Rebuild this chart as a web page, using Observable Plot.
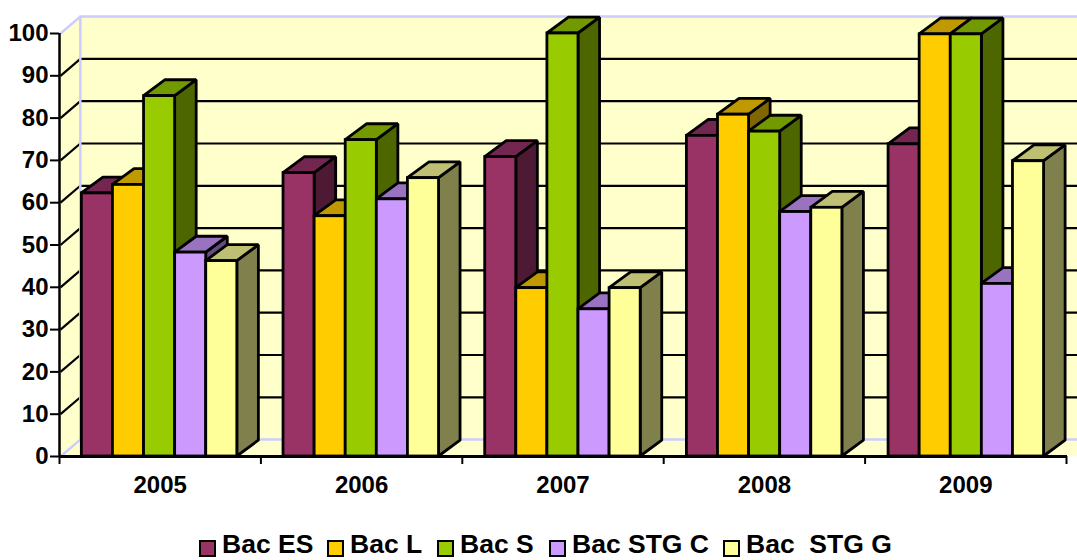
<!DOCTYPE html>
<html><head><meta charset="utf-8">
<script src="https://cdn.jsdelivr.net/npm/d3@7"></script>
<script src="https://cdn.jsdelivr.net/npm/@observablehq/plot@0.6"></script>
<style>
html,body{margin:0;padding:0;background:#fff;overflow:hidden;width:1077px;height:560px}
#legend{position:relative;height:30px;font:bold 26.5px "Liberation Sans",Arial,sans-serif;color:#000;line-height:30px;white-space:pre}
#legend .i{position:absolute;top:-1px;display:flex}
#legend .s{width:13px;height:13px;border:2.5px solid #000;margin:11px 6px 0 0;flex:none}
svg{display:block}
</style></head><body>
<div id="chart"></div><div id="legend"></div>
<script>
const years = ["2005","2006","2007","2008","2009"];
const seriesNames = ["Bac ES","Bac L","Bac S","Bac STG C","Bac  STG G"];
const bacES  = [62.2,67,70.8,75.8,73.8];
const bacL   = [64.2,56.8,39.8,80.8,99.8];
const bacS   = [85.2,74.8,100,76.8,99.8];
const bacSTGC= [48.2,60.8,34.8,57.8,40.8];
const bacSTGG= [46.2,65.8,39.8,58.8,69.8];
const front = ["#993366","#ffcc00","#99cc00","#cc99ff","#ffff99"];
const top_  = ["#732650","#c09900","#739900","#9973bf","#bfbf73"];
const side  = ["#4d1933","#806600","#4d6600","#664d80","#80804d"];
const tickValues = [0,10,20,30,40,50,60,70,80,90,100];
const legendLeft = [199,327,437,549,723];

const allSeries = [bacES,bacL,bacS,bacSTGC,bacSTGG];
const H = 530, wall = "#ffffcc", edge = "#ccccff";
const dx = 0.107, dy = 3.75, barW = 0.1544, xEnd = 5.1, wallDx = 0.0985, wallDy = 4, groupStep = 1.0014, barStart = 0.106;

const barMarks = [];
years.forEach((_, g) => allSeries.forEach((vals, s) => {
  const v = vals[g], x0 = g * groupStep + barStart + s * barW, x1 = x0 + barW;
  const st = {stroke:"#000", strokeWidth:2.8, strokeLinejoin:"miter"};
  barMarks.push(
    Plot.areaY([{x:x1,a:0,b:v},{x:x1+dx,a:dy,b:v+dy}], {x:"x",y1:"a",y2:"b",fill:side[s],...st}),
    Plot.areaX([{y:v,a:x0,b:x1},{y:v+dy,a:x0+dx,b:x1+dx}], {y:"y",x1:"a",x2:"b",fill:top_[s],...st}),
    Plot.rect([{a:x0,b:x1,v}], {x1:"a",x2:"b",y1:0,y2:"v",fill:front[s],...st})
  );
}));

const grid = tickValues.filter(t => t > 0 && t < 100);
const chart = Plot.plot({
  width:1077, height:H, marginLeft:60, marginRight:10, marginTop:33, marginBottom:H-456,
  style:{background:"transparent", fontFamily:'"Liberation Sans",Arial,sans-serif'},
  x:{domain:[0,5], axis:null}, y:{domain:[0,100], axis:null},
  marks:[
    Plot.areaY([{x:wallDx,a:wallDy,b:100+wallDy},{x:xEnd,a:wallDy,b:100+wallDy}], {x:"x",y1:"a",y2:"b",fill:wall}),
    Plot.areaY([{x:0,a:0,b:100},{x:wallDx,a:wallDy,b:100+wallDy}], {x:"x",y1:"a",y2:"b",fill:wall}),
    Plot.areaX([{y:0,a:0,b:xEnd},{y:wallDy,a:wallDx,b:xEnd}], {y:"y",x1:"a",x2:"b",fill:wall}),
    Plot.link(grid, {x1:0,y1:d=>d,x2:wallDx,y2:d=>d+wallDy,stroke:"#000",strokeWidth:2.2}),
    Plot.ruleY(grid, {y:d=>d+wallDy,x1:wallDx,x2:xEnd,stroke:"#000",strokeWidth:2.2}),
    Plot.line([[0,100],[wallDx,100+wallDy],[xEnd,100+wallDy]], {x:"0",y:"1",stroke:edge,strokeWidth:2.5}),
    Plot.line([[wallDx,100+wallDy],[wallDx,wallDy],[0,0]], {x:"0",y:"1",stroke:edge,strokeWidth:2.5}),
    Plot.line([[wallDx,wallDy],[xEnd,wallDy]], {x:"0",y:"1",stroke:edge,strokeWidth:2.5}),
    ...barMarks,
    Plot.ruleX([0], {y1:0,y2:100,stroke:"#000",strokeWidth:2.5,dx:-1}),
    Plot.ruleY([0], {x1:0,x2:5,stroke:"#000",strokeWidth:3}),
    Plot.axisY({ticks:tickValues, tickSize:9, tickPadding:2, strokeWidth:2, fontSize:24, fontWeight:"bold", fill:"#000", label:null, marginLeft:60, dx:-1}),
    Plot.axisX({ticks:[0,1,2,3,4,5], tickSize:8, strokeWidth:2, tickFormat:()=>"", label:null, dx:-1}),
    Plot.axisX({ticks:years.map((_,i)=>i+0.5), tickSize:0, tickPadding:19, fontSize:24, fontWeight:"bold", fill:"#000", tickFormat:d=>years[d-0.5], label:null, dx:-1})
  ]
});
document.getElementById("chart").append(chart);
const lg = document.getElementById("legend");
seriesNames.forEach((n,i)=>{
  const it=document.createElement("div");it.className="i";it.style.left=legendLeft[i]+"px";
  const s=document.createElement("div");s.className="s";s.style.background=front[i];it.append(s);
  const t=document.createElement("div");t.textContent=n;it.append(t);
  lg.append(it);
});
</script></body></html>
